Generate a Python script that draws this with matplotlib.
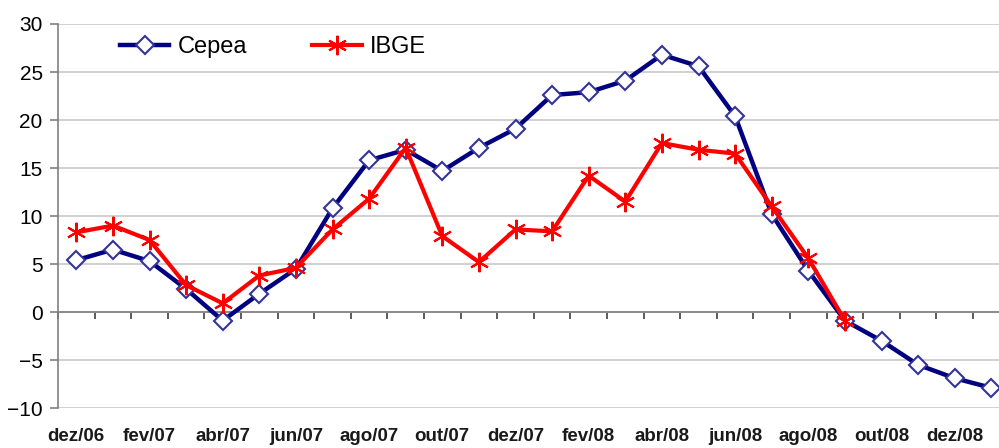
import numpy as np
import matplotlib.pyplot as plt
import matplotlib.transforms as mtransforms

plt.rcParams['font.family'] = ['Liberation Sans', 'DejaVu Sans']

months = ['dez/06', 'jan/07', 'fev/07', 'mar/07', 'abr/07', 'mai/07', 'jun/07',
          'jul/07', 'ago/07', 'set/07', 'out/07', 'nov/07', 'dez/07', 'jan/08',
          'fev/08', 'mar/08', 'abr/08', 'mai/08', 'jun/08', 'jul/08', 'ago/08',
          'set/08', 'out/08', 'nov/08', 'dez/08', 'jan/09']
cepea = [5.4, 6.5, 5.3, 2.4, -0.9, 1.9, 4.5, 10.8, 15.8, 16.9, 14.7, 17.1, 19.1,
         22.6, 22.9, 24.1, 26.8, 25.6, 20.4, 10.2, 4.3, -0.9, -3.0, -5.5, -6.9, -7.9]
ibge = [8.3, 9.0, 7.5, 2.8, 0.9, 3.8, 4.6, 8.6, 11.8, 17.1, 7.9, 5.2, 8.6, 8.4,
        14.2, 11.5, 17.6, 16.9, 16.5, 11.0, 5.6, -0.9]

fig = plt.figure(figsize=(9.99, 4.48), dpi=100)
ax = fig.add_axes([58 / 999, 40 / 448, 951.6 / 999, 384 / 448])

x_c = np.arange(len(cepea))
x_i = np.arange(len(ibge))

ax.plot(x_c, cepea, color='#000080', lw=3.2, marker='D', ms=9.5,
        mfc='white', mec='#333399', mew=1.5, label='Cepea', zorder=3)
ax.plot(x_i, ibge, color='#ff0000', lw=3.0, marker=(6, 2, 0), ms=14,
        mec='#ff0000', mew=1.5, label='IBGE', zorder=4)

ax.set_xlim(-0.5, len(months) - 0.5)
ax.set_ylim(-10, 30)
ax.set_yticks(np.arange(-10, 31, 5))
ax.yaxis.grid(True, color='#c8c8c8', lw=1.2)
ax.set_axisbelow(True)

for s in ['top', 'right']:
    ax.spines[s].set_visible(False)
ax.spines['left'].set_color('#808080')
ax.spines['left'].set_linewidth(1.2)
ax.spines['bottom'].set_position(('data', 0))
ax.spines['bottom'].set_color('#808080')
ax.spines['bottom'].set_linewidth(1.2)
ax.spines['bottom'].set_zorder(2)

ax.set_xticks(np.arange(-0.5, len(months), 1.0))
ax.set_xticklabels([])
ax.tick_params(axis='x', direction='out', length=5, width=1.2, color='#404040')
ax.tick_params(axis='y', direction='out', length=6, width=1.2, color='#808080',
               labelsize=15, pad=5)

trans = mtransforms.blended_transform_factory(ax.transData, ax.transAxes)
for i in range(0, len(months), 2):
    ax.text(i, -0.075, months[i], transform=trans, ha='center', va='center',
            fontsize=13.5, fontweight='bold', color='#1a1a1a')

ax.legend(loc='center left', bbox_to_anchor=(0.065, 0.94), ncol=2, frameon=False,
          fontsize=17, handlelength=2.1, columnspacing=2.75, handletextpad=0.35,
          borderpad=0, borderaxespad=0)

plt.savefig('out.png', dpi=100)
plt.close()
